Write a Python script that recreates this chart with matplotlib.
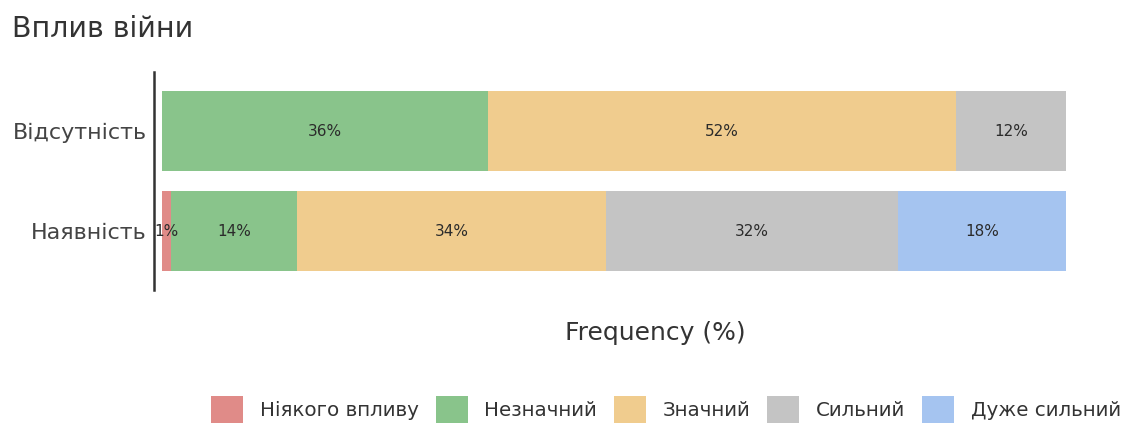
import matplotlib.pyplot as plt
import numpy as np

plt.rcParams['font.family'] = ['DejaVu Sans']

# дані
groups = ['Наявність', 'Відсутність']
categories = ['Ніякого впливу', 'Незначний', 'Значний', 'Сильний', 'Дуже сильний']
colors = ['#e08b88', '#89c48b', '#f0cc8e', '#c4c4c4', '#a5c4f0']

# частки у відсотках для кожної групи (порядок як у groups)
values = {
    'Ніякого впливу': [0.96, 0.0],
    'Незначний': [13.95, 36.05],
    'Значний': [34.2, 51.8],
    'Сильний': [32.3, 12.15],
    'Дуже сильний': [18.6, 0.0],
}
labels = {
    'Ніякого впливу': ['1%', ''],
    'Незначний': ['14%', '36%'],
    'Значний': ['34%', '52%'],
    'Сильний': ['32%', '12%'],
    'Дуже сильний': ['18%', ''],
}


def plot_bars(filename='out.png'):
    fig = plt.figure(figsize=(11.23, 4.23), dpi=100)
    ax = fig.add_axes([154 / 1123, 1 - 290 / 423, 920 / 1123, 218 / 423])

    y = np.arange(len(groups))
    left = np.zeros(len(groups))
    for cat, col in zip(categories, colors):
        vals = np.array(values[cat])
        ax.barh(y, vals, left=left, height=0.8, color=col, label=cat, linewidth=0)
        for i, (v, lab) in enumerate(zip(vals, labels[cat])):
            if lab:
                ax.text(left[i] + v / 2, y[i], lab, ha='center', va='center',
                        fontsize=11, color='#2b2b2b')
        left += vals

    ax.set_xlim(-0.92, 100.9)
    ax.set_ylim(-0.59, 1.59)
    ax.set_yticks(y)
    ax.set_yticklabels(groups, fontsize=16, color='#444444')
    ax.set_xticks([])
    ax.tick_params(axis='y', length=0, pad=5)
    for s in ['top', 'right', 'bottom']:
        ax.spines[s].set_visible(False)
    ax.spines['left'].set_linewidth(1.8)
    ax.spines['left'].set_color('#333333')

    fig.text(12 / 1123, 1 - 29 / 423, 'Вплив війни', fontsize=20.5, color='#333333',
             ha='left', va='center')
    fig.text(655 / 1123, 1 - 333 / 423, 'Frequency (%)', fontsize=18, color='#333333',
             ha='center', va='center')

    fig.legend(loc='center right', bbox_to_anchor=(1121 / 1123, 1 - 410 / 423), ncol=5,
               frameon=False, fontsize=14.3, handlelength=1.6, handleheight=1.85,
               handletextpad=0.85, columnspacing=0.85, labelcolor='#333333',
               borderaxespad=0, borderpad=0)

    fig.savefig(filename, dpi=100)


if __name__ == '__main__':
    plot_bars()
